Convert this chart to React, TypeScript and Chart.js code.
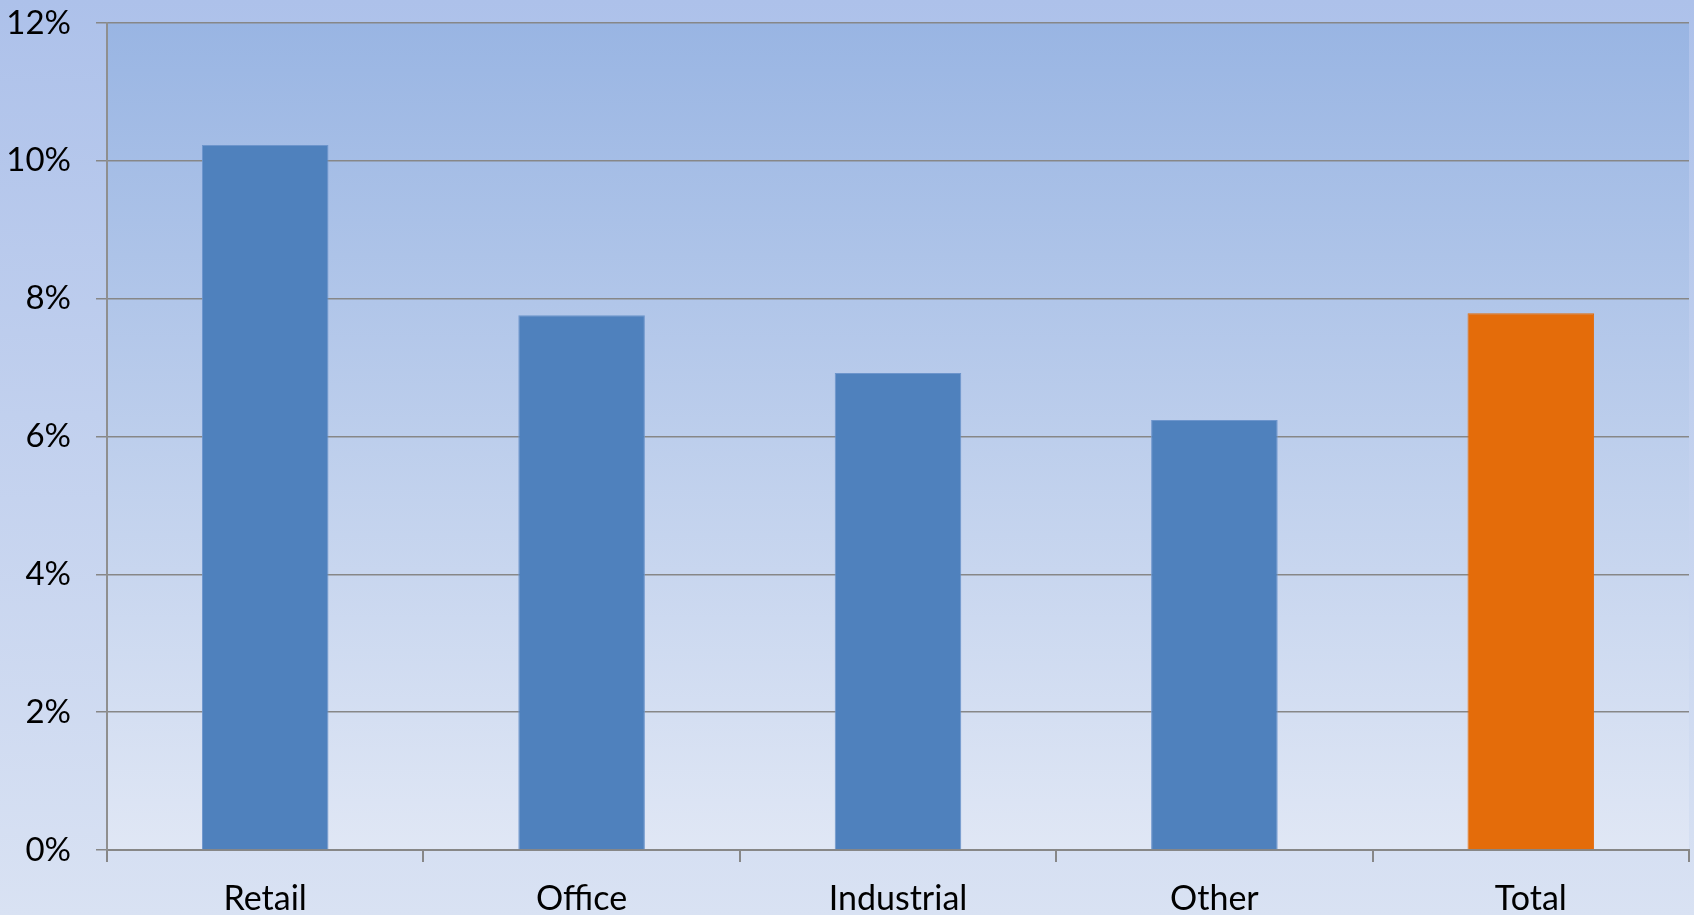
import React, { useEffect, useRef } from "react";
import { Chart, registerables } from "chart.js";

Chart.register(...registerables);

const categories = ["Retail", "Office", "Industrial", "Other", "Total"];
const values = [10.23, 7.76, 6.92, 6.24, 7.79];
const barColors = ["#4f81bd", "#4f81bd", "#4f81bd", "#4f81bd", "#e46c0a"];
const borderColors = ["#6d95cc", "#6d95cc", "#6d95cc", "#6d95cc", "#e46c0a"];
const yMax = 12;
const yStep = 2;

const bgPlugin = {
  id: "bgPlugin",
  beforeDraw(chart: any) {
    const { ctx, width, height, chartArea } = chart;
    ctx.save();
    const g = ctx.createLinearGradient(0, 0, 0, height);
    g.addColorStop(0, "#adc1ea");
    g.addColorStop(1, "#d9e2f3");
    ctx.fillStyle = g;
    ctx.fillRect(0, 0, width, height);
    const g2 = ctx.createLinearGradient(0, chartArea.top, 0, chartArea.bottom);
    g2.addColorStop(0, "#99b5e3");
    g2.addColorStop(1, "#e0e7f5");
    ctx.fillStyle = g2;
    ctx.fillRect(chartArea.left, chartArea.top, chartArea.right - chartArea.left, chartArea.bottom - chartArea.top);
    ctx.restore();
  },
};

export default function App() {
  const ref = useRef<HTMLCanvasElement | null>(null);
  useEffect(() => {
    if (!ref.current) return;
    const chart = new Chart(ref.current, {
      type: "bar",
      data: {
        labels: categories,
        datasets: [
          {
            data: values,
            backgroundColor: barColors,
            borderColor: borderColors,
            borderWidth: 1,
            categoryPercentage: 0.4,
            barPercentage: 1,
          },
        ],
      },
      options: {
        animation: false,
        responsive: false,
        maintainAspectRatio: false,
        devicePixelRatio: 1,
        layout: { padding: { top: 23, right: 5, left: 0, bottom: 0 } },
        plugins: { legend: { display: false }, tooltip: { enabled: false } },
        scales: {
          x: {
            offset: true,
            grid: {
              offset: true,
              drawOnChartArea: false,
              drawTicks: true,
              tickLength: 12,
              color: "#878787",
              lineWidth: 2,
            },
            border: { display: true, color: "#878787", width: 2 },
            ticks: {
              color: "#000000",
              font: { family: "Lato", size: 34 },
              padding: 17,
              maxRotation: 0,
              autoSkip: false,
            },
            afterFit(scale: any) {
              scale.height = 65;
              scale.paddingLeft = 0;
              scale.paddingRight = 0;
            },
          },
          y: {
            min: 0,
            max: yMax,
            grid: {
              color: "#878787",
              lineWidth: 1.5,
              tickLength: 11,
            },
            border: { display: true, color: "#8f8f8f", width: 2 },
            ticks: {
              stepSize: yStep,
              color: "#000000",
              font: { family: "Lato", size: 33 },
              padding: 25,
              callback: (v: any) => `${v}%`,
            },
            afterFit(scale: any) {
              scale.width = 107;
              scale.paddingTop = 0;
              scale.paddingBottom = 0;
            },
          },
        },
      },
      plugins: [bgPlugin],
    });
    return () => chart.destroy();
  }, []);
  return (
    <div style={{ position: "absolute", left: 0, top: 0, width: 1694, height: 915 }}>
      <canvas ref={ref} width={1694} height={915} style={{ width: 1694, height: 915, display: "block" }} />
    </div>
  );
}
